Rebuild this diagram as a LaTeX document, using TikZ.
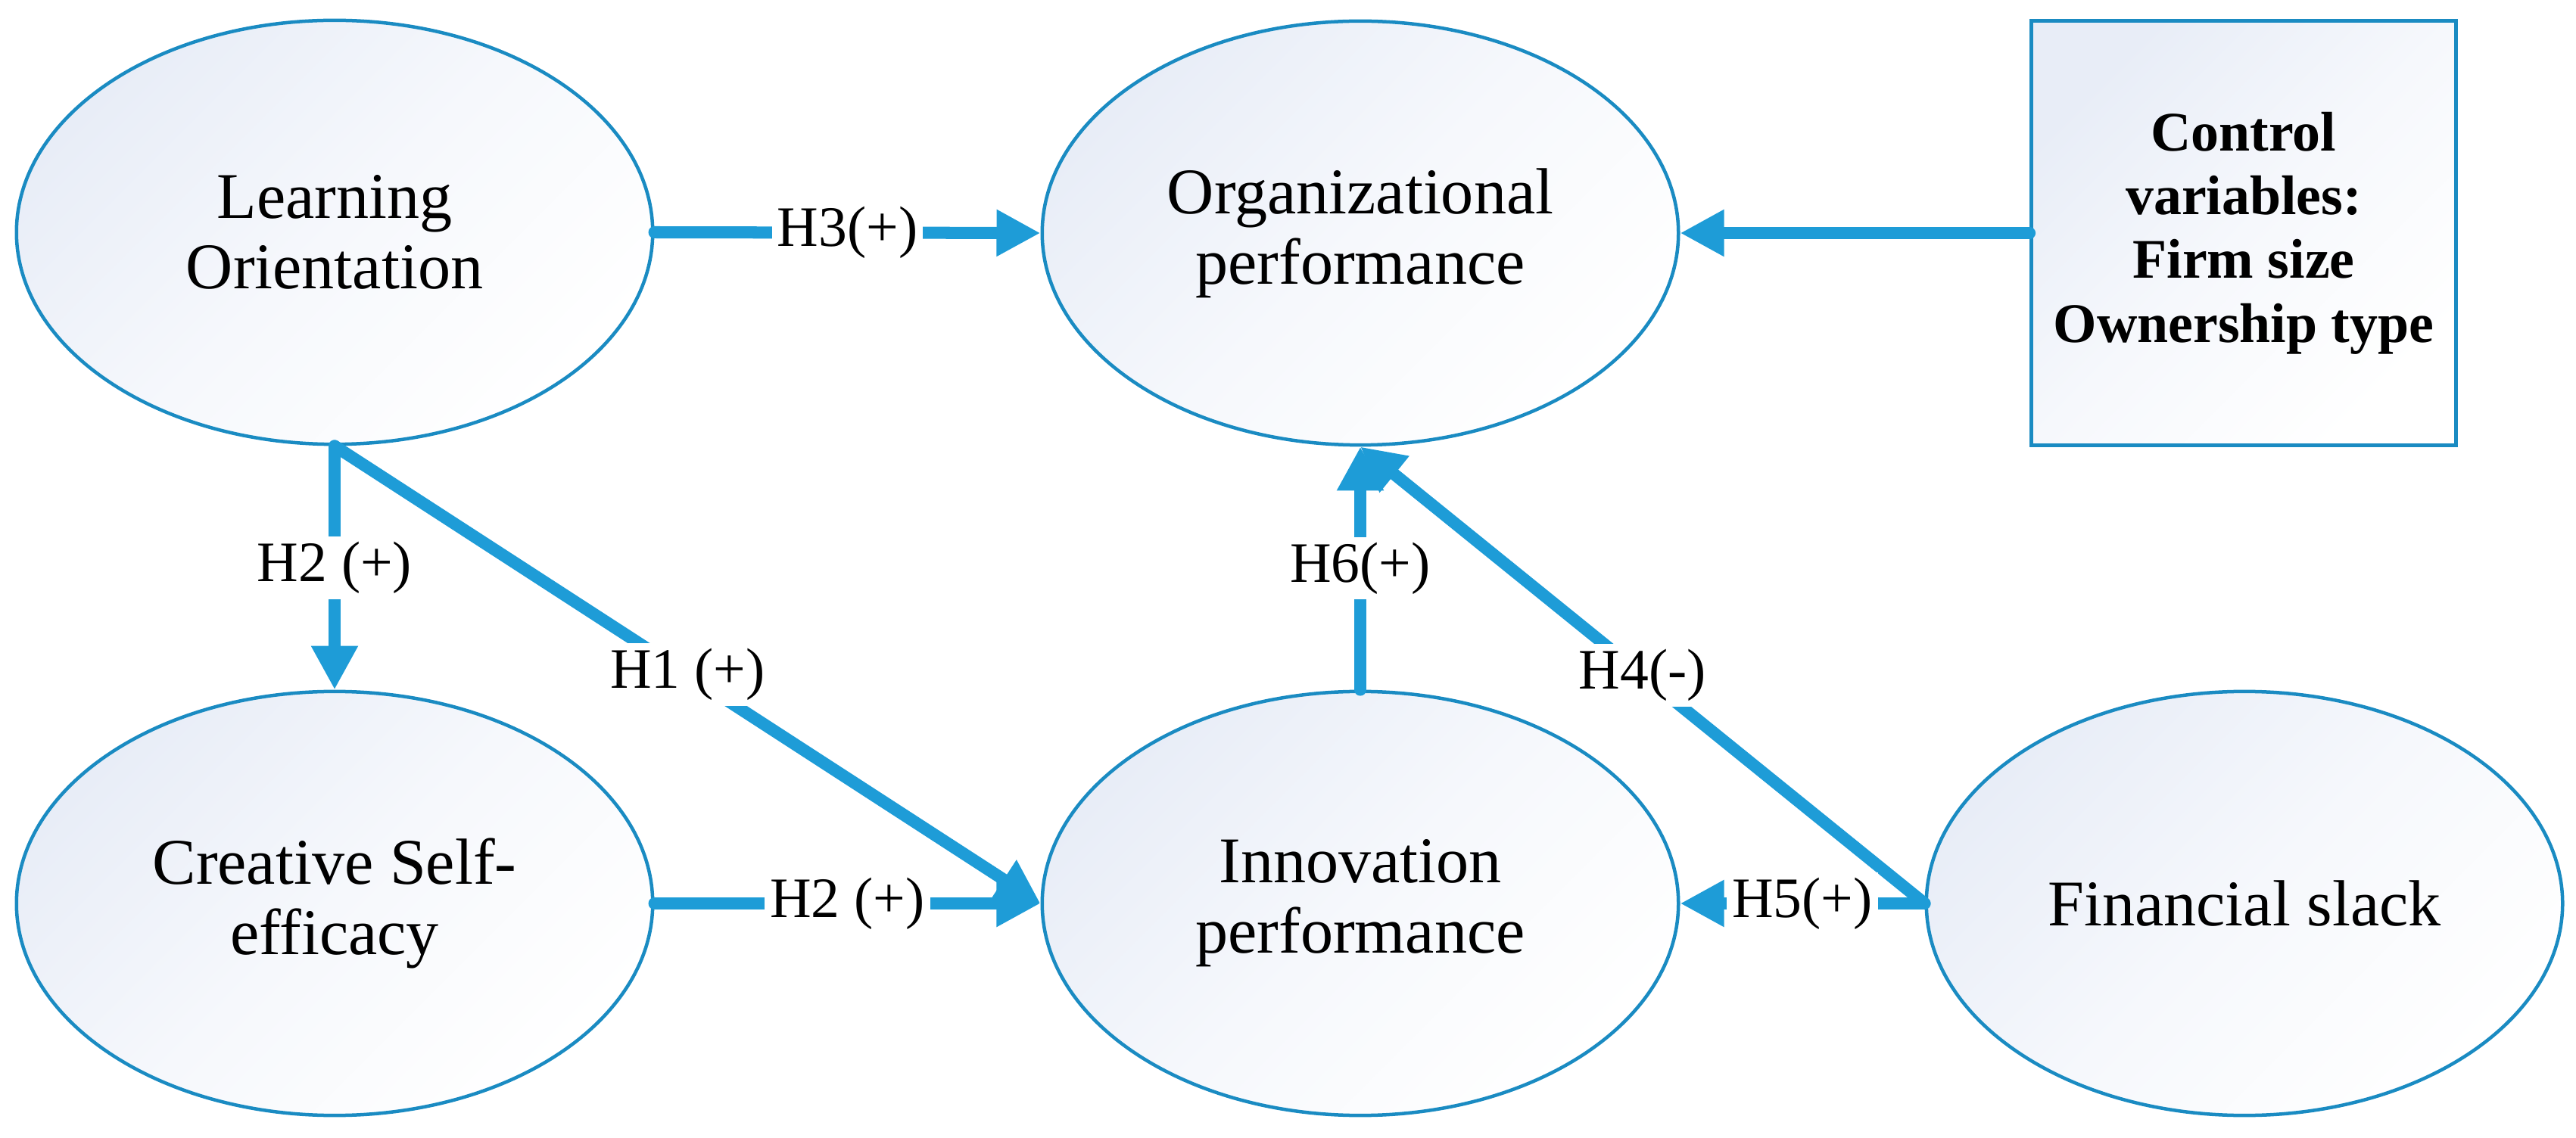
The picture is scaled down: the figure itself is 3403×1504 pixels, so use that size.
\documentclass[tikz,border=0pt]{standalone}
\usepackage{fontspec}
\setmainfont{Liberation Serif}
\usetikzlibrary{shapes.geometric,arrows.meta}
\definecolor{arrowblue}{RGB}{30,156,215}
\definecolor{borderblue}{RGB}{26,139,194}
\definecolor{fillblue}{RGB}{232,237,247}
\definecolor{fillmid}{RGB}{246,248,252}
\begin{document}
\begin{tikzpicture}[x=0.01cm,y=-0.01cm,
  var/.style={ellipse, draw=borderblue, line width=0.045cm, top color=fillblue, bottom color=white, middle color=fillmid, shading angle=45, minimum width=8.4cm, minimum height=5.6cm, inner sep=0pt, align=center, font=\fontsize{24.5}{26.5}\selectfont},
  ctrl/.style={rectangle, draw=borderblue, line width=0.045cm, top color=fillblue, bottom color=white, middle color=fillmid, shading angle=45, minimum width=5.61cm, minimum height=5.61cm, align=center, font=\bfseries\fontsize{21}{24}\selectfont},
  link/.style={draw=arrowblue, line width=0.16cm, line cap=round, -{Triangle[length=0.58cm,width=0.58cm]}},
  lbl/.style={fill=white, inner sep=2pt, font=\fontsize{21.5}{24}\selectfont, text=black}
]
\useasboundingbox (0,0) rectangle (3403,1504);
\node[var] (lo) at (442,307) {Learning\\Orientation};
\node[var] (org) at (1797,308) {Organizational\\performance};
\node[ctrl] (ctrl) at (2964,308) {Control\\variables:\\Firm size\\Ownership type};
\node[var] (cse) at (442,1194) {Creative Self-\\efficacy};
\node[var] (inno) at (1797,1194) {Innovation\\performance};
\node[var] (fs) at (2965,1194) {Financial slack};
\draw[link] (lo.east) -- node[lbl]{H3(+)} (org.west);
\draw[link] (ctrl.west) -- (org.east);
\draw[link] (lo.south) -- node[lbl]{H2 (+)} (cse.north);
\draw[link] (lo.south) -- node[lbl]{H1 (+)} (inno.west);
\draw[link] (cse.east) -- node[lbl]{H2 (+)} (inno.west);
\draw[link] (inno.north) -- node[lbl]{H6(+)} (org.south);
\draw[link] (fs.west) -- node[lbl]{H4(-)} (org.south);
\draw[link] (fs.west) -- node[lbl]{H5(+)} (inno.east);
\end{tikzpicture}
\end{document}
